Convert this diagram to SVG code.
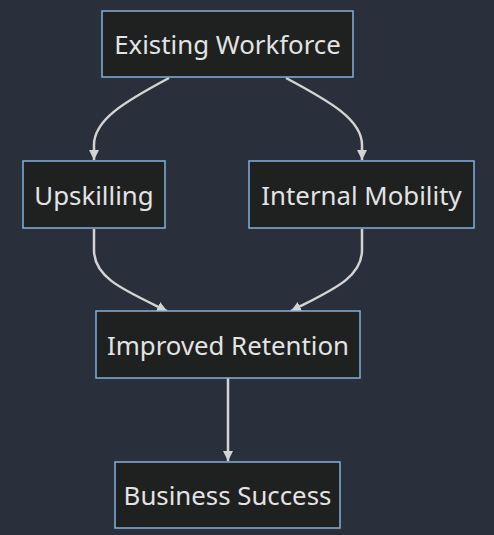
<svg xmlns="http://www.w3.org/2000/svg" width="494" height="535" viewBox="0 0 494 535">
<style>
.bg{fill:#2a2f3c}
.node rect{fill:#1f2020;stroke:#81b1db;stroke-width:1.5}
.node text{fill:#e3e3e3;font-family:"Noto Sans","DejaVu Sans",sans-serif;font-size:25.8px;text-anchor:middle;dominant-baseline:central}
.edge{fill:none;stroke:#d3d3d3;stroke-width:2.5;marker-end:url(#arr)}
</style>
<defs>
<marker id="arr" markerUnits="userSpaceOnUse" markerWidth="11" markerHeight="11" refX="10" refY="5" orient="auto">
<path d="M0,0 L10,5 L0,10 z" fill="#d3d3d3"/>
</marker>
</defs>
<rect class="bg" x="0" y="0" width="494" height="535"/>
<g id="connectors">
<path class="edge" d="M169,78 C124,102 94,120 94,145 L94,160"/>
<path class="edge" d="M286,78 C331,102 362,120 362,145 L362,160"/>
<path class="edge" d="M94,229 L94,250 C94,278 124,290 167,311"/>
<path class="edge" d="M362,229 L362,250 C362,278 332,290 291,311"/>
<path class="edge" d="M228,378 L228,461"/>
</g>
<g id="existing" class="node"><rect x="102" y="11" width="251" height="66"/><text x="227.5" y="44">Existing Workforce</text></g>
<g id="upskilling" class="node"><rect x="23" y="161" width="142" height="67"/><text x="94" y="194.5">Upskilling</text></g>
<g id="mobility" class="node"><rect x="249" y="161" width="225" height="67"/><text x="361.5" y="194.5">Internal Mobility</text></g>
<g id="retention" class="node"><rect x="96" y="311" width="264" height="67"/><text x="228" y="344.5">Improved Retention</text></g>
<g id="success" class="node"><rect x="115" y="462" width="225" height="66"/><text x="227.5" y="495">Business Success</text></g>
</svg>
